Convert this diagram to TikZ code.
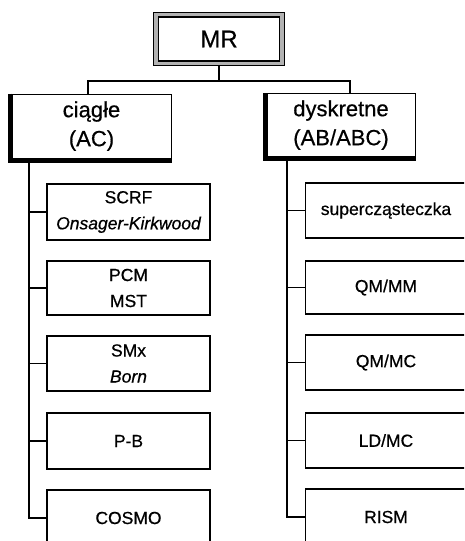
\documentclass[tikz,border=0pt]{standalone}
\usepackage{fontspec}
\setmainfont{Liberation Sans}[FakeBold=0.6]
\newfontfamily\scanfont{Liberation Sans}[RawFeature={embolden=0.6}]
\begin{document}
\begin{tikzpicture}[x=1pt,y=-1pt,
  conn/.style={line width=1.4pt},
  parentbox/.style={draw, line width=1pt, fill=white, align=center, inner sep=0pt,
    font=\scanfont\fontsize{22}{29}\selectfont},
  childbox/.style={draw, line width=1.1pt, fill=white, align=center, inner sep=0pt,
    minimum width=163pt, font=\scanfont\fontsize{17.5}{26}\selectfont},
  shadowline/.style={line width=4pt, line cap=butt}
]
\useasboundingbox (0,0) rectangle (464,541);
\clip (0,0) rectangle (464,541);
\fill[white] (0,0) rectangle (464,541);

% MR box
\node[draw=black, line width=0.8pt, fill=gray!60, minimum width=131pt, minimum height=53pt, inner sep=0pt] (mrouter) at (219,39) {};
\node[draw, line width=1.2pt, fill=white, minimum width=121pt, minimum height=44pt, inner sep=0pt,
  font=\scanfont\fontsize{24}{28}\selectfont] (mr) at (219,39) {MR};

% bus
\coordinate (jM) at (217,81);
\coordinate (jL) at (88,81);
\coordinate (jR) at (350,81);

% parent boxes
\node[parentbox, minimum width=159pt, minimum height=64pt] (ac) at (91.5,126) {ciągłe\\(AC)};
\draw[shadowline] ([xshift=-2pt]ac.north west) -- ([xshift=-2pt,yshift=-2pt]ac.south west) -- ([yshift=-2pt]ac.south east);
\node[parentbox, minimum width=148pt, minimum height=63pt] (ab) at (341,125) {dyskretne\\(AB/ABC)};
\draw[shadowline] ([xshift=-2pt]ab.north west) -- ([xshift=-2pt,yshift=-2pt]ab.south west) -- ([yshift=-2pt]ab.south east);

\draw[conn] (mrouter.south) -- (mrouter.south |- jM);
\draw[conn] (jL |- ac.north) -- (jL) -- (jR) -- (jR |- ab.north);

% left children
\node[childbox, minimum height=56pt] (scrf) at (128.5,212) {SCRF\\\itshape Onsager-Kirkwood};
\node[childbox, minimum height=54pt] (pcm) at (128.5,288) {PCM\\MST};
\node[childbox, minimum height=55pt] (smx) at (128.5,363.5) {SMx\\\itshape Born};
\node[childbox, minimum height=56pt] (pb) at (128.5,441) {P-B};
\node[childbox, minimum height=56pt] (cosmo) at (128.5,518) {COSMO};

\coordinate (sL) at (29,0);
\draw[conn] (sL |- ac.south) -- (sL |- cosmo.west) -- (cosmo.west);
\foreach \n in {scrf,pcm,smx,pb} \draw[conn] (sL |- \n.west) -- (\n.west);

% right children
\node[childbox, minimum width=161pt, minimum height=55pt] (sup) at (386,210.5) {supercząsteczka};
\node[childbox, minimum width=161pt, minimum height=53pt] (qmmm) at (386,287.5) {QM/MM};
\node[childbox, minimum width=161pt, minimum height=55pt] (qmmc) at (386,362.5) {QM/MC};
\node[childbox, minimum width=161pt, minimum height=55pt] (ldmc) at (386,440.5) {LD/MC};
\node[childbox, minimum width=161pt, minimum height=56pt] (rism) at (386,517) {RISM};

\coordinate (sR) at (287,0);
\draw[conn] (sR |- ab.south) -- (sR |- rism.west) -- (rism.west);
\foreach \n in {sup,qmmm,qmmc,ldmc} \draw[conn] (sR |- \n.west) -- (\n.west);
\end{tikzpicture}
\end{document}
